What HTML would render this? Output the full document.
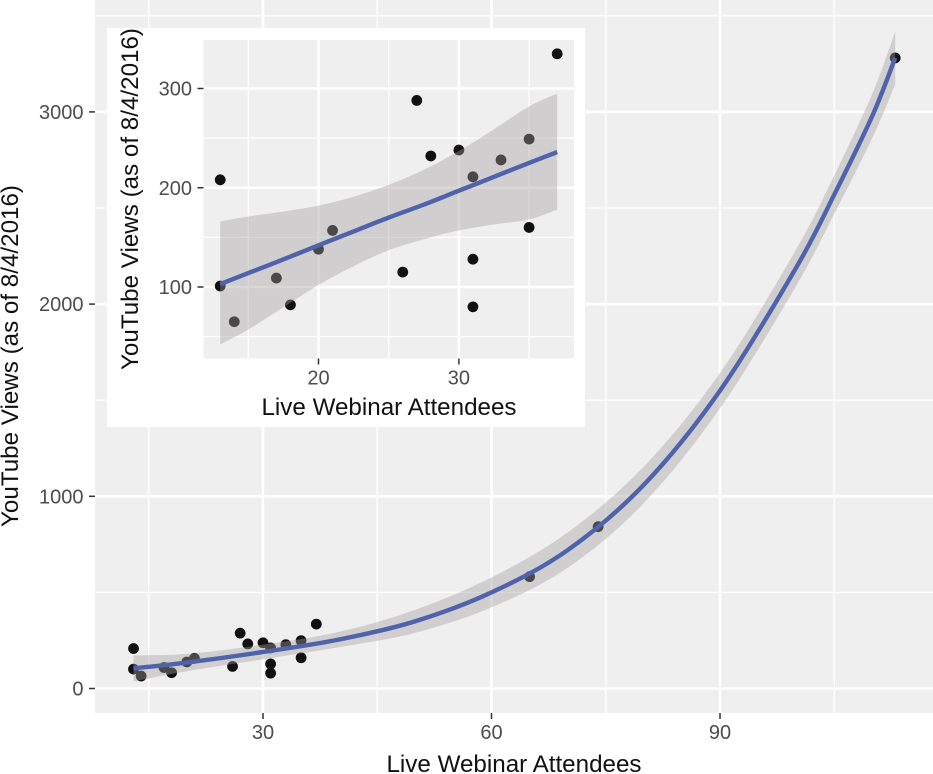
<!DOCTYPE html>
<html>
<head>
<meta charset="utf-8">
<title>YouTube Views vs Live Webinar Attendees</title>
<style>
html,body{margin:0;padding:0;background:#fff;}
svg{display:block;font-family:"Liberation Sans",Arial,sans-serif;}
</style>
</head>
<body>
<svg id="chart" width="933" height="774" viewBox="0 0 933 774" xmlns="http://www.w3.org/2000/svg"></svg>
<script>
// Scatter data (attendees, views)
const insetAttendees = [13,13,14,17,18,20,21,26,27,28,30,31,31,31,33,35,35,37];
const insetViews = [208,101,65,109,82,138,157,115,288,232,238,211,128,80,228,249,160,335];
const extraAttendees = [65,74,113];
const extraViews = [582,842,3281];

// Main smooth
const mainFitX = [13,20,30,40,50,60,70,80,90,100,105,110,113];
const mainFitY = [105,135,190,255,350,500,720,1060,1550,2190,2570,2980,3281];
const mainUpper = [173,180,228,295,410,578,812,1155,1642,2285,2670,3095,3419];
const mainLower = [37,90,152,215,290,422,628,965,1458,2095,2470,2865,3143];

// Inset linear fit
const insetFitX = [13,15,17,20,22.5,25,27.5,30,32.5,35,37];
const insetFitY = [103,114,125,142,156,170,183,197,211,225,236];
const insetUpper = [166,171,175,182,191,203,218,237,259,282,295];
const insetLower = [42,57,75,102,121,137,148,157,163,168,178];

// Ticks
const mainXTicks = [30,60,90];
const mainXMinor = [15,45,75,105];
const mainYTicks = [0,1000,2000,3000];
const mainYMinor = [500,1500,2500,3500];
const insetXTicks = [20,30];
const insetXMinor = [15,25,35];
const insetYTicks = [100,200,300];
const insetYMinor = [50,150,250];

const allAttendees = insetAttendees.concat(extraAttendees);
const allViews = insetViews.concat(extraViews);

const NS = 'http://www.w3.org/2000/svg';
const root = document.getElementById('chart');
function mk(tag, attrs, parent, txt){
  const e = document.createElementNS(NS, tag);
  for (const k in attrs) e.setAttribute(k, attrs[k]);
  if (txt !== undefined) e.textContent = txt;
  (parent || root).appendChild(e);
  return e;
}
function smooth(pts, move){
  let d = (move ? 'M' : 'L') + pts[0][0].toFixed(2) + ' ' + pts[0][1].toFixed(2);
  for (let i = 0; i < pts.length - 1; i++){
    const p0 = pts[Math.max(i-1,0)], p1 = pts[i], p2 = pts[i+1], p3 = pts[Math.min(i+2,pts.length-1)];
    const c1x = p1[0]+(p2[0]-p0[0])/6, c1y = p1[1]+(p2[1]-p0[1])/6;
    const c2x = p2[0]-(p3[0]-p1[0])/6, c2y = p2[1]-(p3[1]-p1[1])/6;
    d += 'C'+c1x.toFixed(2)+' '+c1y.toFixed(2)+' '+c2x.toFixed(2)+' '+c2y.toFixed(2)+' '+p2[0].toFixed(2)+' '+p2[1].toFixed(2);
  }
  return d;
}
function drawPlot(o){
  const g = o.group;
  const panel = mk('rect',{x:o.left,y:o.top,width:o.right-o.left,height:o.bottom-o.top,fill:'#f0eff0'},g);
  
  
  o.yMinor.forEach(function(v){
    const l = mk('line',{x1:o.left,x2:o.right,y1:o.y(v),y2:o.y(v),stroke:'#fff','stroke-width':1.3},g);
    
    
  });
  o.xMinor.forEach(function(v){
    const l = mk('line',{x1:o.x(v),x2:o.x(v),y1:o.top,y2:o.bottom,stroke:'#fff','stroke-width':1.3},g);
    
    
  });
  o.yTicks.forEach(function(v){
    const l = mk('line',{x1:o.left,x2:o.right,y1:o.y(v),y2:o.y(v),stroke:'#fff','stroke-width':2.6},g);
    
    
    const t = mk('line',{x1:o.left-6,x2:o.left,y1:o.y(v),y2:o.y(v),stroke:'#333','stroke-width':1.5},g);
    
    
    const s = mk('text',{x:o.left-11.5,y:o.y(v)+7,'text-anchor':'end','font-size':20,fill:'#4d4d4d'},g,String(v));
    
    
  });
  o.xTicks.forEach(function(v){
    const l = mk('line',{x1:o.x(v),x2:o.x(v),y1:o.top,y2:o.bottom,stroke:'#fff','stroke-width':2.6},g);
    
    
    const t = mk('line',{x1:o.x(v),x2:o.x(v),y1:o.bottom,y2:o.bottom+6,stroke:'#333','stroke-width':1.5},g);
    
    
    const s = mk('text',{x:o.x(v),y:o.bottom+26,'text-anchor':'middle','font-size':20,fill:'#4d4d4d'},g,String(v));
    
    
  });
  o.px.forEach(function(v,i){
    const c = mk('circle',{cx:o.x(v),cy:o.y(o.py[i]),r:5.4,fill:'#111'},g);
    
    
  });
  const upPts = o.fx.map(function(v,i){return [o.x(v),o.y(o.up[i])];});
  const loPts = o.fx.map(function(v,i){return [o.x(v),o.y(o.lo[i])];}).reverse();
  const band = mk('path',{d:smooth(upPts,true)+smooth(loPts,false)+'Z',fill:'#a09e9a','fill-opacity':0.4,stroke:'none'},g);
  
  
  const fitPts = o.fx.map(function(v,i){return [o.x(v),o.y(o.fy[i])];});
  const fit = mk('path',{d:smooth(fitPts,true),fill:'none',stroke:'#4e63ab','stroke-width':4.4},g);
  
  
}

const mainGroup = mk('g',{});


drawPlot({
  group: mainGroup, prefix: 'main-',
  left: 95, right: 933, top: 0, bottom: 713,
  x: function(v){return 263 + (v-30)*7.617;},
  y: function(v){return 688.5 - v*0.1922;},
  xTicks: mainXTicks, xMinor: mainXMinor, yTicks: mainYTicks, yMinor: mainYMinor,
  px: allAttendees, py: allViews,
  fx: mainFitX, fy: mainFitY, up: mainUpper, lo: mainLower
});
const mainXTitle = mk('text',{x:514,y:772,'text-anchor':'middle','font-size':24.2,fill:'#111'},mainGroup,'Live Webinar Attendees');


const mainYTitle = mk('text',{x:0,y:0,transform:'translate(18,356) rotate(-90)','text-anchor':'middle','font-size':24.2,fill:'#111'},mainGroup,'YouTube Views (as of 8/4/2016)');



const insetGroup = mk('g',{});


const insetBg = mk('rect',{x:107,y:28,width:478,height:399,fill:'#fff'},insetGroup);


drawPlot({
  group: insetGroup, prefix: 'inset-',
  left: 203.5, right: 574, top: 40, bottom: 358.5,
  x: function(v){return 318.5 + (v-20)*14.04;},
  y: function(v){return 287 - (v-100)*0.9925;},
  xTicks: insetXTicks, xMinor: insetXMinor, yTicks: insetYTicks, yMinor: insetYMinor,
  px: insetAttendees, py: insetViews,
  fx: insetFitX, fy: insetFitY, up: insetUpper, lo: insetLower
});
const insetXTitle = mk('text',{x:389,y:415,'text-anchor':'middle','font-size':24.2,fill:'#111'},insetGroup,'Live Webinar Attendees');


const insetYTitle = mk('text',{x:0,y:0,transform:'translate(138,199) rotate(-90)','text-anchor':'middle','font-size':24.2,fill:'#111'},insetGroup,'YouTube Views (as of 8/4/2016)');


</script>
</body>
</html>
